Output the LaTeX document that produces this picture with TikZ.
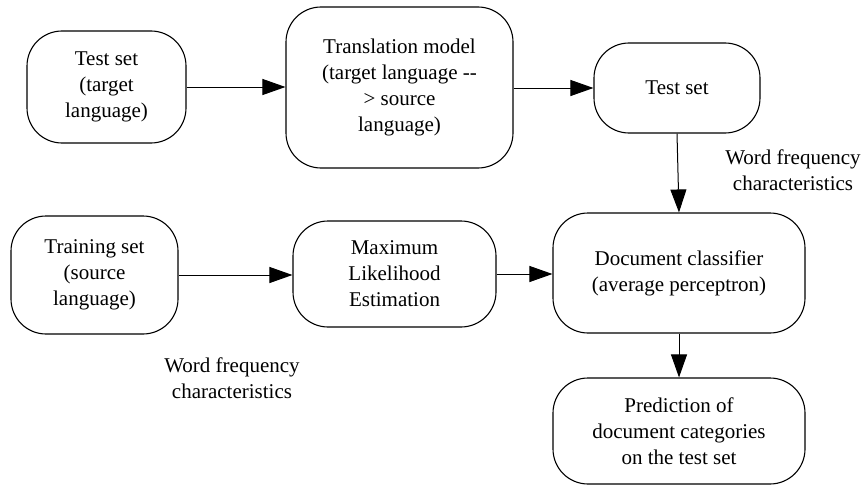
\documentclass[tikz,border=0pt]{standalone}
\usepackage{fontspec}
\setmainfont{Liberation Serif}
\usetikzlibrary{arrows.meta}
\begin{document}
\begin{tikzpicture}[x=1pt,y=-1pt,
  box/.style={draw, line width=1.1pt, rounded corners=35pt, align=center,
    font=\fontsize{21}{26}\selectfont, inner sep=0pt},
  lbl/.style={align=center, font=\fontsize{21}{26}\selectfont, inner sep=0pt},
  arr/.style={line width=1pt, -{Triangle[length=23pt,width=16pt]}}]
\useasboundingbox (0,0) rectangle (864,487);
\node[box, minimum width=159pt, minimum height=112pt] (ts1) at (106.5,87) {Test set\\(target\\language)};
\node[box, minimum width=227pt, minimum height=161pt] (tm) at (399.5,87.5) {Translation model\\(target language -{}-\\> source\\language)};
\node[box, minimum width=166pt, minimum height=90pt] (ts2) at (677,88) {Test set};
\node[box, minimum width=167pt, minimum height=118pt] (tr) at (94.5,275) {Training set\\(source\\language)};
\node[box, minimum width=203pt, minimum height=106pt] (mle) at (394.5,274) {Maximum\\Likelihood\\Estimation};
\node[box, minimum width=252pt, minimum height=120pt] (dc) at (679,273) {Document classifier\\(average perceptron)};
\node[box, minimum width=252pt, minimum height=106pt] (pr) at (679,431) {Prediction of\\document categories\\on the test set};
\node[lbl] (l1) at (793,170) {Word frequency\\characteristics};
\node[lbl] (l2) at (232,378) {Word frequency\\characteristics};
\draw[arr] (ts1.east) -- (ts1.east -| tm.west);
\draw[arr] (tm.east |- ts2.west) -- (ts2.west);
\draw[arr] (ts2.south) -- (dc.north);
\draw[arr] (tr.east) -- (tr.east -| mle.west);
\draw[arr] (mle.east) -- (mle.east -| dc.west);
\draw[arr] (dc.south) -- (pr.north);
\end{tikzpicture}
\end{document}
